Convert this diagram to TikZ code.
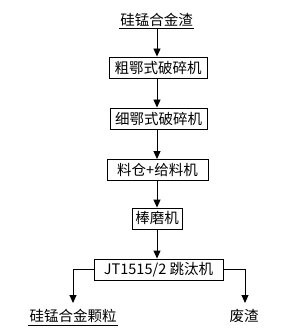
\documentclass[tikz,border=0pt]{standalone}
\usepackage{fontspec}
\setmainfont{Noto Sans CJK SC}
\usetikzlibrary{arrows.meta}
\begin{document}
\begin{tikzpicture}[x=1pt,y=-1pt,
  every node/.style={font=\fontsize{14.5pt}{16pt}\selectfont, inner sep=0pt},
  stepbox/.style={draw, line width=0.9pt, minimum height=21pt, anchor=center},
  flow/.style={line width=0.9pt, -{Triangle[length=8pt,width=7pt]}},
  plain/.style={line width=0.9pt}]
\useasboundingbox (0,0) rectangle (289,334);
\node[minimum height=18pt] (top) at (156.5,19.5) {硅锰合金渣};
\draw[plain] ([xshift=-1pt]top.south west) -- ([xshift=1pt]top.south east);
\node[stepbox, minimum width=98pt] (b1) at (158,67.5) {粗鄂式破碎机};
\node[stepbox, minimum width=97pt] (b2) at (158.5,118.5) {细鄂式破碎机};
\node[stepbox, minimum width=101pt] (b3) at (157.5,170) {料仓+给料机};
\node[stepbox, minimum width=50pt] (b4) at (157,218.5) {棒磨机};
\node[stepbox, minimum width=129pt] (b5) at (158.5,269.5) {JT1515/2 跳汰机};
\node[minimum height=18pt] (p) at (73,316) {硅锰合金颗粒};
\draw[plain] ([xshift=-1pt]p.south west) -- ([xshift=1pt]p.south east);
\node[minimum height=18pt] (w) at (244,316) {废渣};
\coordinate (pa) at (73,303);
\coordinate (wa) at (245,303);
\draw[flow] (top.south -| 157,0) -- (b1.north -| 157,0);
\draw[flow] (b1.south -| 157,0) -- (b2.north -| 157,0);
\draw[flow] (b2.south -| 157,0) -- (b3.north -| 157,0);
\draw[flow] (b3.south -| 157,0) -- (b4.north -| 157,0);
\draw[flow] (b4.south -| 157,0) -- (b5.north -| 157,0);
\draw[flow] (b5.west) -| (pa);
\draw[flow] (b5.east) -| (wa);
\end{tikzpicture}
\end{document}
